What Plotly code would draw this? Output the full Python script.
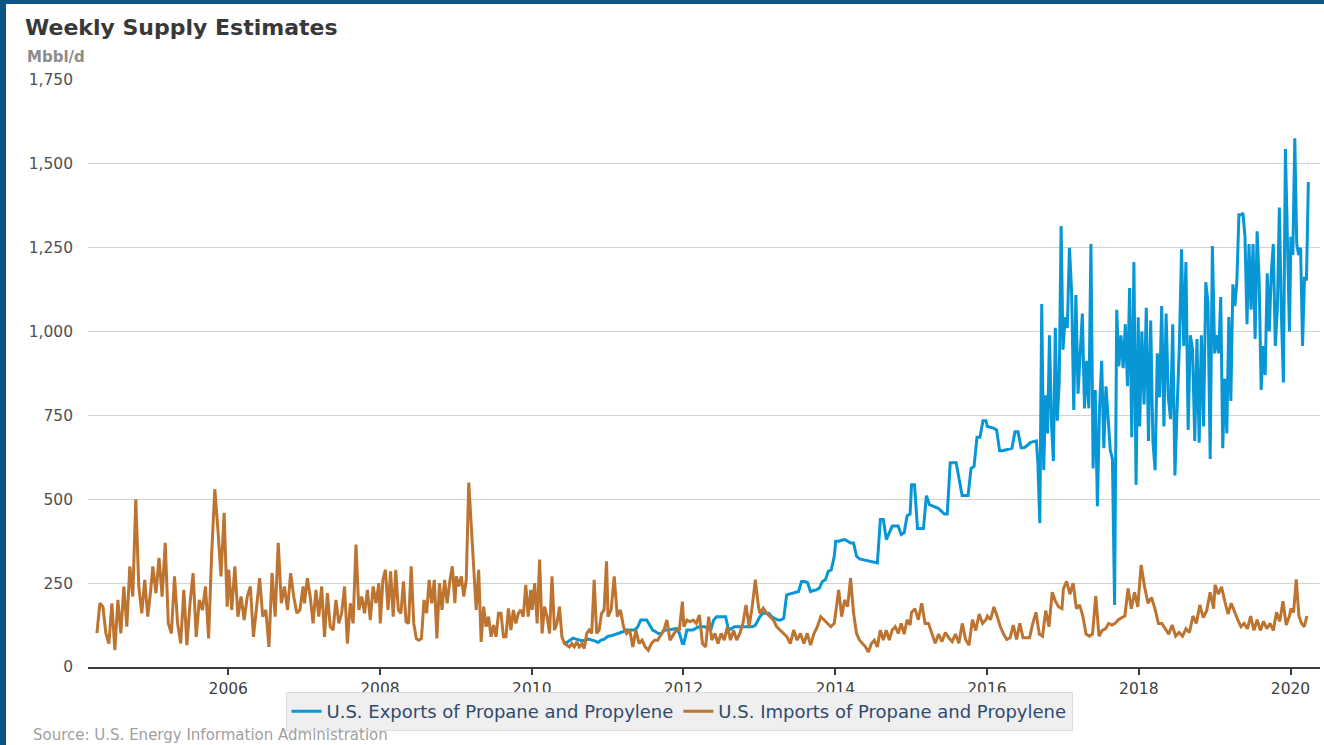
import pandas as pd
import plotly.graph_objects as go

# ---------------- data (Mbbl/d) ----------------
imp_2004 = [101, 190, 180, 100, 70, 190, 50, 200, 100, 240, 120, 300, 210, 500, 240, 160, 260, 150, 230]
imp_2005 = [300, 220, 325, 210, 370, 130, 100, 270, 130, 70, 230, 65, 190, 280, 90, 200, 170, 240, 85, 340, 530, 410, 270, 460, 180]
imp_2006 = [290, 170, 300, 150, 210, 140, 210, 240, 90, 170, 265, 150, 170, 60, 280, 150, 370, 190, 240, 170, 280, 210, 160, 170, 240]
imp_2007 = [190, 265, 210, 130, 230, 150, 240, 90, 220, 120, 110, 200, 130, 160, 240, 70, 190, 130, 365, 170, 210, 160, 230, 140, 240, 190, 250]
imp_2008 = [130, 260, 290, 170, 285, 150, 290, 170, 160, 255, 135, 130, 300, 130, 85, 80, 85, 200, 160, 260, 190, 260, 85, 250, 170, 260, 190, 255, 300, 190]
imp_2009 = [270, 240, 270, 210, 260, 550, 410, 290, 170, 290, 75, 180, 120, 150, 90, 125, 90, 160, 160, 90, 90, 175, 110, 170, 130, 160, 170, 150, 245, 150, 230]
imp_2010 = [170, 250, 130, 320, 100, 180, 150, 100, 270, 110, 130, 180, 90, 70, 65, 60, 70, 60, 75, 60, 70, 55, 100, 110, 100, 260, 100, 110, 160, 170, 315]
imp_2011 = [150, 170, 270, 150, 170, 120, 100, 110, 60, 110, 70, 80, 60, 50, 70, 80, 80, 95, 110, 140, 80, 95, 110, 110, 195]
imp_2012 = [120, 140, 135, 140, 130, 155, 70, 60, 150, 80, 100, 70, 100, 80, 120, 80, 110, 80, 100, 130, 185, 120, 180, 260, 180]
imp_2013 = [160, 175, 160, 150, 140, 120, 110, 100, 90, 70, 110, 80, 100, 70, 100, 65, 100, 120, 150, 140, 130, 120, 130]
imp_2014 = [160, 230, 150, 200, 180, 265, 160, 100, 80, 70, 60, 45, 70, 80, 60, 110, 80, 110, 80, 110, 120, 100, 130, 98, 141, 125]
imp_2015 = [163, 174, 141, 190, 130, 130, 98, 71, 98, 76, 103, 87, 76, 98, 71, 130, 82, 65, 141, 109, 158, 130, 141]
imp_2016 = [152, 141, 179, 152, 120, 98, 82, 87, 125, 82, 130, 87, 87, 87, 130, 163, 98, 92, 168, 120, 223, 196, 179, 174]
imp_2017 = [234, 255, 217, 250, 174, 185, 152, 98, 92, 98, 212, 92, 109, 114, 130, 125, 130, 141, 147, 152, 234, 174, 223, 179]
imp_2018 = [304, 239, 190, 207, 174, 130, 130, 114, 98, 125, 92, 103, 92, 114, 103, 152, 130, 185, 147, 168, 223, 174]
imp_2019 = [245, 217, 239, 196, 158, 190, 163, 141, 120, 130, 114, 152, 109, 141, 109, 136, 114, 130, 109, 163, 136, 196, 125, 152]
imp_2020 = [174, 163, 261, 152, 130, 120, 152]

exp_2010 = [73, 73, 80, 86, 83, 80, 78, 80, 83, 80, 78, 73, 80, 83, 90]
exp_2011 = [92, 93, 96, 98, 100, 105, 110, 110, 110, 110, 120, 140, 140, 140, 125, 110, 105, 100, 100, 110, 110, 112, 115, 115, 100, 70]
exp_2012 = [70, 110, 110, 110, 115, 120, 120, 120, 115, 110, 140, 150, 150, 150, 150, 110, 115, 120, 120, 120, 120, 120, 120, 120, 125, 140]
exp_2013 = [150, 160, 160, 160, 150, 145, 140, 140, 145, 215, 218, 220, 222, 225, 255, 255, 252, 225, 228, 230, 235, 255, 260, 285, 290, 330]
exp_2014 = [375, 375, 378, 380, 375, 370, 370, 330, 322, 320, 318, 315, 312, 310, 310, 440, 440, 380, 400, 420, 420, 420, 395, 400, 451, 456]
exp_2015 = [543, 543, 413, 413, 413, 511, 484, 480, 476, 473, 465, 456, 456, 609, 609, 609, 560, 511, 511, 511, 592, 598, 685, 685, 734, 734]
exp_2016a = [717, 715, 712, 707, 645, 645, 647, 650, 652, 701, 701, 654, 654, 660, 669, 672, 674]
exp_2016b = [609, 429, 1082, 587, 810, 696, 989, 728, 614, 1011, 734, 848, 1315]
exp_2017 = [946, 1043, 1011, 1250, 1120, 766, 1109, 815, 957, 1054, 771, 913, 771, 1261, 592, 826, 479, 771, 913, 652, 837, 739, 647, 620, 185, 1065, 897, 989, 891, 1022, 837, 1130, 685, 1207, 543, 1043]
exp_2018 = [717, 1000, 783, 1071, 674, 1033, 674, 587, 935, 804, 1076, 717, 1054, 804, 739, 1022, 571, 771, 957, 1245, 957, 1207, 707, 989, 946, 674, 978, 669, 989, 717, 1147, 1087, 620, 1255]
exp_2019 = [935, 989, 935, 1103, 652, 859, 696, 1043, 793, 1141, 1076, 1152, 1348, 1348, 1353, 1283, 1022, 1261, 1065, 1261, 978, 1299, 1152, 826, 957, 870, 1174, 1000, 1174, 1261, 957, 1065, 1370, 1054, 848, 1544, 1283, 1000]
exp_2020 = [1283, 1228, 1576, 1261, 1228, 1250, 957, 1163, 1152, 1446]

x_tick_years = ["2006", "2008", "2010", "2012", "2014", "2016", "2018", "2020"]

# each block of weekly readings spread over the span it covers
imports_blocks = [
    ("2004-04-09", "2004-12-24", imp_2004), ("2005-01-03", "2005-12-27", imp_2005),
    ("2006-01-03", "2006-12-27", imp_2006), ("2007-01-03", "2007-12-27", imp_2007),
    ("2008-01-03", "2008-12-27", imp_2008), ("2009-01-03", "2009-12-27", imp_2009),
    ("2010-01-03", "2010-12-27", imp_2010), ("2011-01-03", "2011-12-27", imp_2011),
    ("2012-01-03", "2012-12-27", imp_2012), ("2013-01-03", "2013-12-27", imp_2013),
    ("2014-01-03", "2014-12-27", imp_2014), ("2015-01-03", "2015-12-27", imp_2015),
    ("2016-01-03", "2016-12-27", imp_2016), ("2017-01-03", "2017-12-27", imp_2017),
    ("2018-01-12", "2018-12-27", imp_2018), ("2019-01-03", "2019-12-27", imp_2019),
    ("2020-01-03", "2020-03-20", imp_2020),
]
exports_blocks = [
    ("2010-06-04", "2010-12-31", exp_2010), ("2011-01-03", "2011-12-27", exp_2011),
    ("2012-01-03", "2012-12-27", exp_2012), ("2013-01-03", "2013-12-27", exp_2013),
    ("2014-01-03", "2014-12-27", exp_2014), ("2015-01-03", "2015-12-27", exp_2015),
    ("2016-01-03", "2016-08-26", exp_2016a), ("2016-09-02", "2016-12-23", exp_2016b),
    ("2017-01-01", "2017-12-29", exp_2017), ("2018-01-05", "2018-12-21", exp_2018),
    ("2019-01-01", "2019-12-27", exp_2019), ("2020-01-03", "2020-03-27", exp_2020),
]


def build(blocks):
    xs, ys = [], []
    for start, end, vals in blocks:
        xs.extend(pd.date_range(start, end, periods=len(vals)))
        ys.extend(vals)
    return xs, ys


ex_x, ex_y = build(exports_blocks)
im_x, im_y = build(imports_blocks)

# ---------------- layout helpers ----------------
W, H = 1324, 745
ML, MR, MT, MB = 88, 4, 80, 78
PW, PH = W - ML - MR, H - MT - MB


def px_x(x):
    return (x - ML) / PW


def px_y(y):
    return (H - MB - y) / PH


FONT = "DejaVu Sans"
NAVY = "#0b5584"

fig = go.Figure()
fig.add_trace(go.Scatter(x=ex_x, y=ex_y, mode="lines",
                         name="U.S. Exports of Propane and Propylene",
                         line=dict(color="#0797d6", width=3)))
fig.add_trace(go.Scatter(x=im_x, y=im_y, mode="lines",
                         name="U.S. Imports of Propane and Propylene",
                         line=dict(color="#bd7430", width=3)))

fig.update_layout(
    width=W, height=H,
    margin=dict(l=ML, r=MR, t=MT, b=MB, autoexpand=False),
    paper_bgcolor="white", plot_bgcolor="white",
    font=dict(family=FONT),
    showlegend=True,
    legend=dict(orientation="h", x=px_x(679), xanchor="center",
                y=px_y(692), yanchor="top",
                bgcolor="#efefef", bordercolor="#dcdcdc", borderwidth=1,
                font=dict(family=FONT, size=18, color="#2f4a6c"),
                itemwidth=30, traceorder="normal"),
    xaxis=dict(type="date", range=["2004-02-26", "2020-05-22"],
               tickvals=[f"{y}-01-01" for y in x_tick_years], ticktext=x_tick_years,
               showgrid=False, zeroline=False,
               showline=True, linecolor="#3c3c3c", linewidth=2,
               ticks="outside", ticklen=6, tickwidth=1.5, tickcolor="#3c3c3c",
               tickfont=dict(family=FONT, size=15.5, color="#3f3f3f"),
               automargin=False, fixedrange=True),
    yaxis=dict(range=[0, 1750], dtick=250, tick0=0, tickformat=",",
               showgrid=True, gridcolor="#d2d2d2", gridwidth=1,
               zeroline=False, showline=False, ticks="",
               ticklabelstandoff=14,
               tickfont=dict(family=FONT, size=15.5, color="#505050"),
               automargin=False, fixedrange=True),
    shapes=[
        dict(type="rect", xref="paper", yref="paper",
             x0=px_x(0), x1=px_x(6), y0=px_y(H), y1=px_y(0),
             fillcolor=NAVY, line=dict(width=0), layer="above"),
        dict(type="rect", xref="paper", yref="paper",
             x0=px_x(0), x1=px_x(W), y0=px_y(4), y1=px_y(0),
             fillcolor=NAVY, line=dict(width=0), layer="above"),
    ],
    annotations=[
        dict(text="<b>Weekly Supply Estimates</b>", xref="paper", yref="paper",
             x=px_x(23), y=px_y(28), xanchor="left", yanchor="middle", showarrow=False,
             font=dict(family=FONT, size=22, color="#383838")),
        dict(text="<b>Mbbl/d</b>", xref="paper", yref="paper",
             x=px_x(25), y=px_y(57), xanchor="left", yanchor="middle", showarrow=False,
             font=dict(family=FONT, size=15, color="#8c8c8c")),
        dict(text="Source: U.S. Energy Information Administration", xref="paper", yref="paper",
             x=px_x(31), y=px_y(735), xanchor="left", yanchor="middle", showarrow=False,
             font=dict(family=FONT, size=15, color="#a0a0a0")),
    ],
)

fig.write_html("out.html", config={"displayModeBar": False},
               post_script="document.body.style.margin='0';document.body.style.overflow='hidden';")
